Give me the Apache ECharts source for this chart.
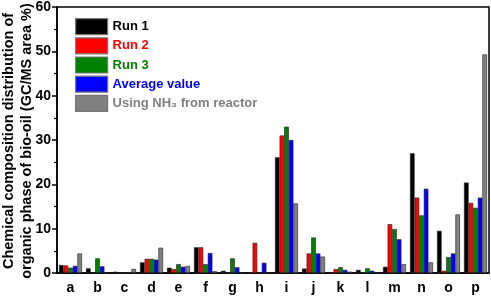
<!DOCTYPE html>
<html>
<head>
<meta charset="utf-8">
<script src="https://cdn.jsdelivr.net/npm/echarts@6/dist/echarts.min.js"></script>
<style>
  html, body { margin: 0; padding: 0; background: #fff; }
  #main { width: 491px; height: 297px; }
</style>
</head>
<body>
<div id="main"></div>
<script>
var categories = ['a', 'b', 'c', 'd', 'e', 'f', 'g', 'h', 'i', 'j', 'k', 'l', 'm', 'n', 'o', 'p'];

var run1   = [1.8, 1.05, 0.3, 2.4, 1.2, 5.8, 0.5, 0,   26.1, 1.0, 0,   0.7, 1.4, 27.0, 9.5, 20.4];
var run2   = [1.7, 0,    0,   3.2, 0.9, 5.8, 0,   6.8, 31.0, 4.4, 0.9, 0,   11.0, 17.0, 0.5, 15.8];
var run3   = [1.2, 3.3,  0,   3.2, 2.0, 2.0, 3.3, 0,   33.0, 8.0, 1.3, 1.05, 9.9, 13.0, 3.6, 14.7];
var avg    = [1.6, 1.5,  0,   3.0, 1.4, 4.5, 1.3, 2.3, 30.0, 4.4, 0.7, 0.5, 7.6, 19.0, 4.4, 17.0];
var nh3    = [4.4, 0,    0.9, 5.7, 1.6, 0.4, 0,   0,   15.7, 3.7, 0.3, 0,   2.0, 2.4, 13.2, 49.3];

var seriesNames = ['Run 1', 'Run 2', 'Run 3', 'Average value', 'Using NH\u2083 from reactor'];
var seriesColors = ['#000000', '#ff0000', '#008000', '#0000ff', '#808080'];
var seriesData = [run1, run2, run3, avg, nh3];
var yTitle = 'Chemical composition distribution of\norganic phase of bio-oil (GC/MS area %)';

var chart = echarts.init(document.getElementById('main'));

var fontFam = 'Liberation Sans, Arial, sans-serif';

var series = [];
for (var i = 0; i < seriesNames.length; i++) {
    series.push({
        name: seriesNames[i],
        type: 'bar',
        data: seriesData[i],
        barWidth: 4.6,
        barGap: '0%',
        itemStyle: {
            color: seriesColors[i],
            borderColor: '#222',
            borderWidth: 0.6
        }
    });
}

var legendData = [];
for (var j = 0; j < seriesNames.length; j++) {
    legendData.push({
        name: seriesNames[j],
        icon: 'rect',
        itemStyle: { color: seriesColors[j], borderColor: '#777', borderWidth: 1.2 },
        textStyle: { color: seriesColors[j] }
    });
}

var option = {
    animation: false,
    grid: {
        left: 57,
        right: 2,
        top: 7,
        bottom: 24,
        outerBoundsMode: 'none',
        containLabel: false,
        show: true,
        borderColor: '#000',
        borderWidth: 1.5
    },
    // y title drawn by hand, two rotated lines
    graphic: [{
        type: 'text',
        x: 18,
        y: 141,
        rotation: Math.PI / 2,
        style: {
            text: yTitle,
            fill: '#000',
            fontFamily: fontFam,
            fontWeight: 'bold',
            fontSize: 14.5,
            lineHeight: 18,
            align: 'center',
            verticalAlign: 'middle'
        }
    }],
    legend: {
        orient: 'vertical',
        left: 75,
        top: 18,
        padding: 0,
        itemWidth: 32,
        itemHeight: 16,
        itemGap: 2,
        data: legendData,
        textStyle: {
            fontFamily: fontFam,
            fontWeight: 'bold',
            fontSize: 13
        }
    },
    xAxis: {
        type: 'category',
        data: categories,
        axisLine: { lineStyle: { color: '#000', width: 1.5 } },
        axisTick: { alignWithLabel: true, length: 4, lineStyle: { color: '#000', width: 1.5 } },
        axisLabel: {
            color: '#000',
            fontFamily: fontFam,
            fontWeight: 'bold',
            fontSize: 14,
            margin: 8
        }
    },
    yAxis: {
        type: 'value',
        min: 0,
        max: 60,
        interval: 10,
        splitLine: { show: false },
        axisLine: { show: true, lineStyle: { color: '#000', width: 1.5 } },
        axisTick: { show: true, length: 5, lineStyle: { color: '#000', width: 1.5 } },
        minorTick: { show: true, splitNumber: 2, length: 3, lineStyle: { color: '#000', width: 1.2 } },
        axisLabel: {
            color: '#000',
            fontFamily: fontFam,
            fontWeight: 'bold',
            fontSize: 14,
            margin: 6
        }
    },
    series: series
};

chart.setOption(option);
</script>
</body>
</html>
